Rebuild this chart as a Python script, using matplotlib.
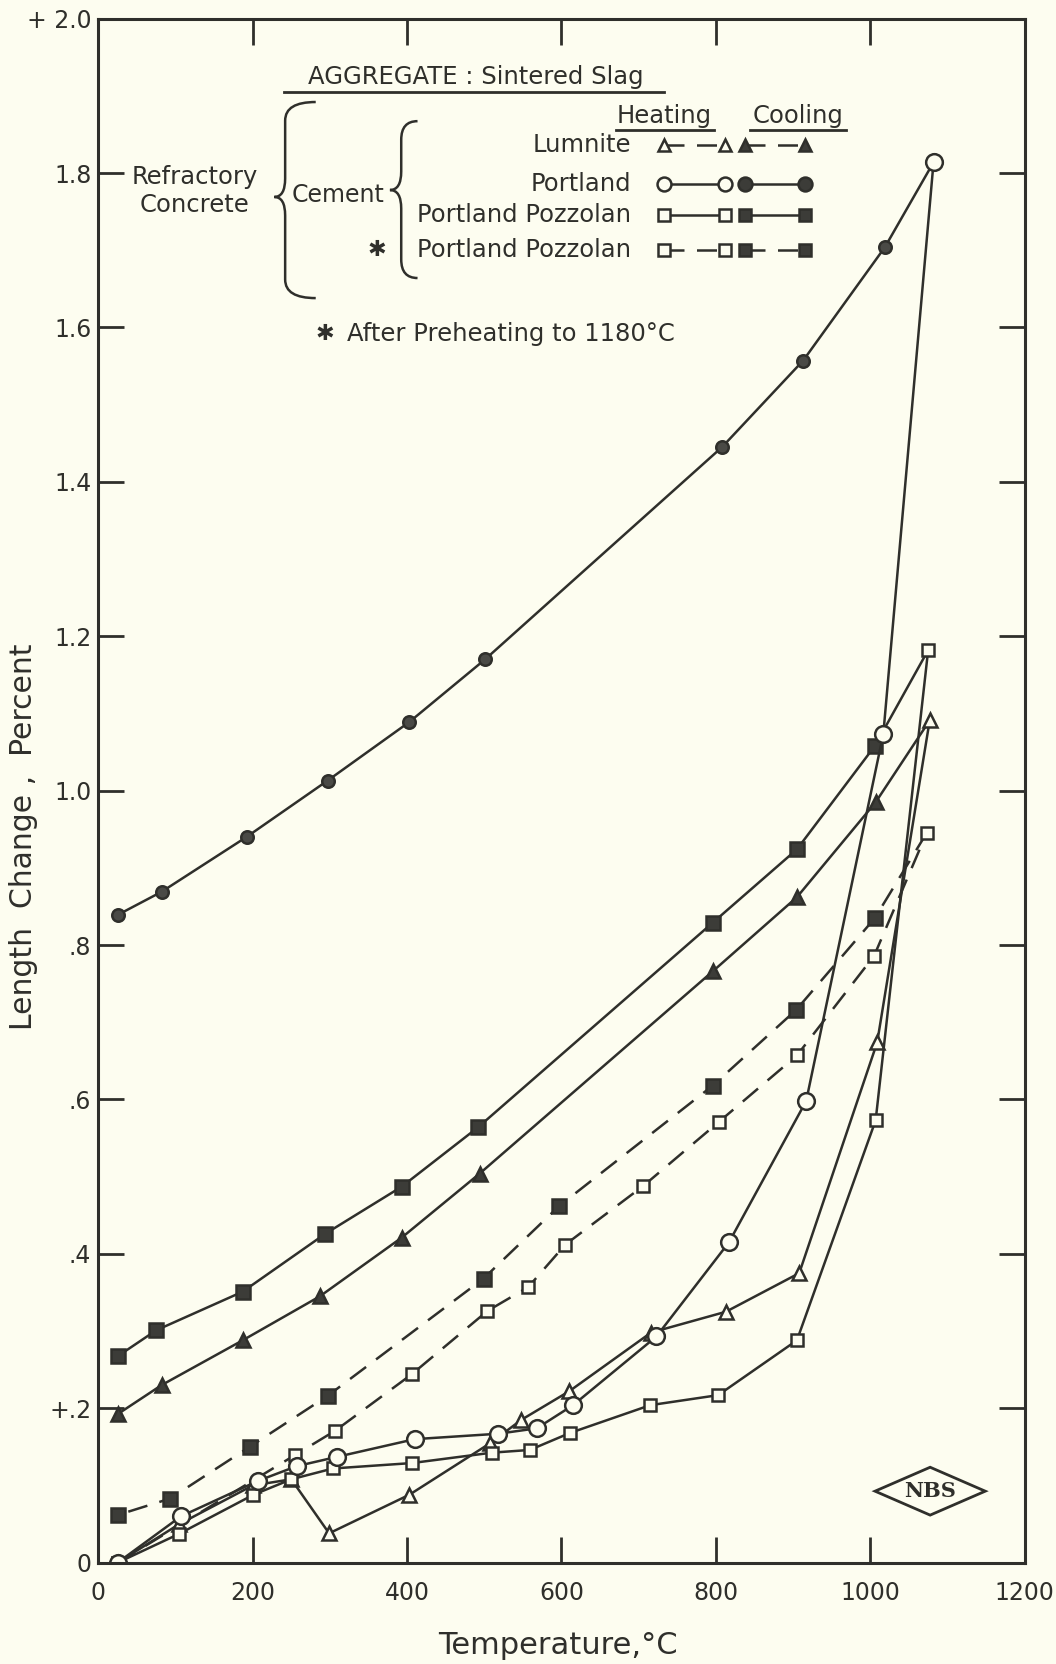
"""Length change of refractory concrete (sintered slag aggregate) on heating and cooling"""
import matplotlib

matplotlib.use("Agg")
import matplotlib.pyplot as plt
from matplotlib.path import Path
from matplotlib.patches import PathPatch, Polygon

# --- data (temperature in degC, length change in percent) ---
portland_heat_t = [25, 107, 207, 257, 309, 410, 518, 568, 615, 723, 817, 917, 1017, 1082]
portland_heat_v = [0.0, 0.060, 0.106, 0.125, 0.137, 0.160, 0.167, 0.174, 0.204, 0.293, 0.415, 0.598, 1.074, 1.814]
portland_cool_t = [1082, 1019, 913, 808, 501, 403, 297, 192, 82, 25]
portland_cool_v = [1.814, 1.704, 1.557, 1.445, 1.170, 1.089, 1.013, 0.940, 0.869, 0.839]

lumnite_heat_t = [25, 105, 200, 250, 299, 403, 508, 548, 610, 716, 813, 908, 1009, 1077]
lumnite_heat_v = [0.0, 0.050, 0.100, 0.108, 0.038, 0.088, 0.155, 0.185, 0.222, 0.298, 0.325, 0.375, 0.674, 1.091]
lumnite_cool_t = [1077, 1007, 905, 796, 494, 393, 287, 187, 82, 26]
lumnite_cool_v = [1.091, 0.985, 0.862, 0.766, 0.504, 0.421, 0.345, 0.288, 0.230, 0.193]

pozz_heat_t = [25, 104, 201, 250, 304, 406, 510, 559, 611, 715, 803, 905, 1007, 1075]
pozz_heat_v = [0.0, 0.037, 0.088, 0.108, 0.122, 0.129, 0.1425, 0.146, 0.168, 0.204, 0.217, 0.288, 0.573, 1.182]
pozz_cool_t = [1075, 1006, 905, 796, 492, 393, 294, 187, 75, 26]
pozz_cool_v = [1.182, 1.058, 0.924, 0.829, 0.564, 0.487, 0.426, 0.351, 0.301, 0.268]

# Portland pozzolan after preheating to 1180 C
pre_heat_t = [25, 255, 307, 406, 504, 557, 605, 706, 804, 905, 1005, 1073]
pre_heat_v = [0.0, 0.1395, 0.171, 0.244, 0.326, 0.357, 0.412, 0.488, 0.571, 0.657, 0.786, 0.945]
pre_cool_t = [1073, 1006, 904, 796, 597, 499, 297, 196, 93, 26]
pre_cool_v = [0.945, 0.835, 0.716, 0.618, 0.462, 0.368, 0.216, 0.150, 0.083, 0.062]

x_ticks = [0, 200, 400, 600, 800, 1000, 1200]
y_ticks = [0, 0.2, 0.4, 0.6, 0.8, 1.0, 1.2, 1.4, 1.6, 1.8, 2.0]
y_tick_labels = ["0", "+.2", ".4", ".6", ".8", "1.0", "1.2", "1.4", "1.6", "1.8", "+ 2.0"]

BG = "#fdfdf0"
INK = "#2f2f2b"
FILL = "#3c3c38"
LW = 1.8
DASH = (0, (8, 5))

plt.rcParams["font.family"] = ["DejaVu Sans"]


def draw_brace(ax, x_tip, x_mid, x_end, y_bot, y_tip, y_top, r=0.012):
    """Left-pointing curly brace in axes coordinates"""
    verts = [
        (x_end, y_top),
        (x_mid, y_top), (x_mid, y_top - r),
        (x_mid, y_tip + r),
        (x_mid, y_tip), (x_tip, y_tip),
        (x_mid, y_tip), (x_mid, y_tip - r),
        (x_mid, y_bot + r),
        (x_mid, y_bot), (x_end, y_bot),
    ]
    codes = [
        Path.MOVETO,
        Path.CURVE3, Path.CURVE3,
        Path.LINETO,
        Path.CURVE3, Path.CURVE3,
        Path.CURVE3, Path.CURVE3,
        Path.LINETO,
        Path.CURVE3, Path.CURVE3,
    ]
    patch = PathPatch(Path(verts, codes), fill=False, edgecolor=INK, lw=LW,
                      transform=ax.transAxes, clip_on=False)
    ax.add_patch(patch)


def legend_sample(ax, x0, x1, y, marker, filled, dashed, ms):
    face = FILL if filled else BG
    ax.plot([x0, x1], [y, y], transform=ax.transAxes, clip_on=False, color=INK,
            lw=LW, ls=DASH if dashed else "-", marker=marker, ms=ms,
            mfc=face, mec=INK, mew=1.8)


fig = plt.figure(figsize=(10.56, 16.64), dpi=100, facecolor=BG)
ax = fig.add_axes([0.0931, 0.0609, 0.8772, 0.9279], facecolor=BG)

common = dict(color=INK, lw=LW, mec=INK, mew=1.8)

# cooling curves first (first point is the heating end point, drawn open)
ax.plot(portland_cool_t, portland_cool_v, marker="o", ms=9, mfc="#4a4a46",
        markevery=slice(1, None), **common)
ax.plot(lumnite_cool_t, lumnite_cool_v, marker="^", ms=10, mfc=FILL,
        markevery=slice(1, None), **common)
ax.plot(pozz_cool_t, pozz_cool_v, marker="s", ms=10, mfc=FILL,
        markevery=slice(1, None), **common)
ax.plot(pre_cool_t, pre_cool_v, marker="s", ms=10, mfc=FILL, ls=DASH,
        markevery=slice(1, None), **common)

# heating curves
ax.plot(pre_heat_t, pre_heat_v, marker="s", ms=9, mfc=BG, ls=DASH, **common)
ax.plot(lumnite_heat_t, lumnite_heat_v, marker="^", ms=10, mfc=BG, **common)
ax.plot(pozz_heat_t, pozz_heat_v, marker="s", ms=9, mfc=BG, **common)
ax.plot(portland_heat_t, portland_heat_v, marker="o", ms=12, mfc=BG, **common)

ax.set_xlim(0, 1200)
ax.set_ylim(0, 2.0)
ax.set_xticks(x_ticks)
ax.set_xticklabels([str(t) for t in x_ticks])
ax.set_yticks(y_ticks)
ax.set_yticklabels(y_tick_labels)
ax.tick_params(direction="in", length=19, width=2, color=INK, top=True,
               right=True, labelsize=17, labelcolor=INK)
ax.tick_params(axis="x", pad=13)
ax.tick_params(axis="y", pad=5)
for spine in ax.spines.values():
    spine.set_linewidth(2.2)
    spine.set_color(INK)

fig.text(0.022, 0.497, "Length  Change ,  Percent", rotation=90, ha="center",
         va="center", fontsize=21.5, color=INK)
fig.text(0.528, 0.011, "Temperature,°C", ha="center", va="center",
         fontsize=22, color=INK)

# --- legend block drawn as annotations ---
tk = dict(transform=ax.transAxes, color=INK, fontsize=17.5)
ax.text(0.4074, 0.962, "AGGREGATE : Sintered Slag", ha="center", va="center", **tk)
ax.plot([0.2007, 0.611], [0.9525, 0.9525], transform=ax.transAxes, color=INK, lw=2)

ax.text(0.611, 0.9368, "Heating", ha="center", va="center", **tk)
ax.plot([0.559, 0.665], [0.928, 0.928], transform=ax.transAxes, color=INK, lw=2)
ax.text(0.755, 0.9368, "Cooling", ha="center", va="center", **tk)
ax.plot([0.703, 0.8076], [0.928, 0.928], transform=ax.transAxes, color=INK, lw=2)

row_y = [0.918, 0.893, 0.873, 0.850]
row_names = ["Lumnite", "Portland", "Portland Pozzolan", "Portland Pozzolan"]
row_markers = ["^", "o", "s", "s"]
row_dashed = [True, False, False, True]
row_ms = [9, 10, 9, 9]
for y, name, mk, dsh, ms in zip(row_y, row_names, row_markers, row_dashed, row_ms):
    ax.text(0.5748, y, name, ha="right", va="center", **tk)
    legend_sample(ax, 0.611, 0.677, y, mk, False, dsh, ms)
    legend_sample(ax, 0.698, 0.763, y, mk, True, dsh, ms)

ax.text(0.301, 0.850, "\u2731", ha="center", va="center", transform=ax.transAxes,
        color=INK, fontsize=16)
ax.text(0.104, 0.8976, "Refractory", ha="center", va="center", **tk)
ax.text(0.104, 0.879, "Concrete", ha="center", va="center", **tk)
ax.text(0.2585, 0.886, "Cement", ha="center", va="center", transform=ax.transAxes,
        color=INK, fontsize=17)
draw_brace(ax, 0.190, 0.2017, 0.2347, 0.819, 0.8845, 0.946)
draw_brace(ax, 0.3148, 0.327, 0.3446, 0.832, 0.889, 0.9336)

ax.text(0.245, 0.796, "\u2731", ha="center", va="center", transform=ax.transAxes,
        color=INK, fontsize=16)
ax.text(0.268, 0.796, "After Preheating to 1180°C", ha="left", va="center", **tk)

# NBS mark
cx, cy, hw, hh = 0.898, 0.0463, 0.0595, 0.0155
ax.add_patch(Polygon([(cx - hw, cy), (cx, cy + hh), (cx + hw, cy), (cx, cy - hh)],
                     closed=True, fill=False, edgecolor=INK, lw=2,
                     transform=ax.transAxes))
ax.text(cx, cy, "NBS", ha="center", va="center", transform=ax.transAxes,
        family="DejaVu Serif", fontweight="bold", fontsize=15, color=INK)

fig.savefig("out.png", dpi=100, facecolor=BG)
